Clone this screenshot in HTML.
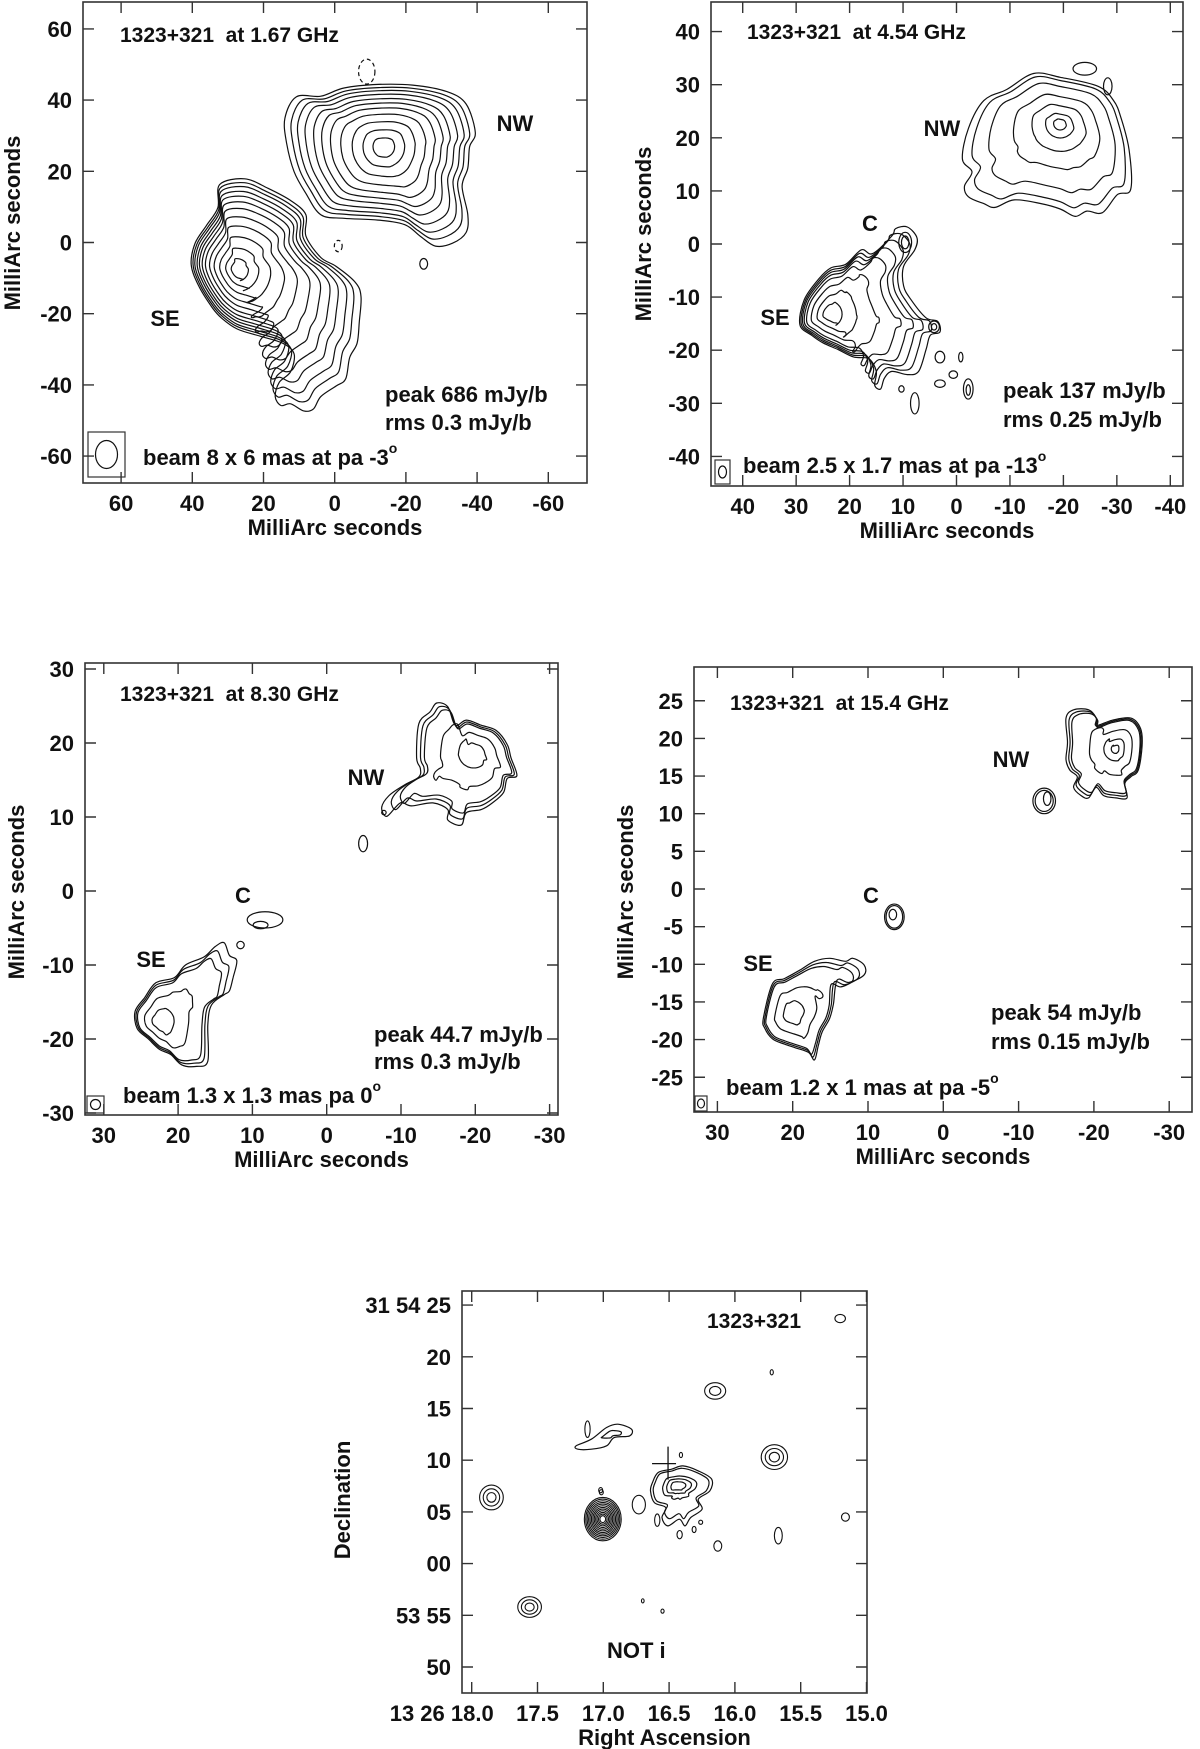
<!DOCTYPE html>
<html><head><meta charset="utf-8"><style>
html,body{margin:0;padding:0;background:#fff;}
svg{display:block;}
text{font-family:"Liberation Sans",Arial,sans-serif;font-weight:bold;fill:#111;white-space:pre;}
</style></head><body>
<svg id="fig" width="1200" height="1749" viewBox="0 0 1200 1749" xmlns="http://www.w3.org/2000/svg"></svg>
<script>
// ---------- Panel 1 (1.67 GHz) data, mas ----------
const p1NW = [[14.0,34.9],[10.8,40.9],[3.9,41.1],[-2.6,43.4],[-12.2,44.4],[-21.9,44.2],[-31.5,42.4],[-36.9,38.9],[-39.5,30.9],[-37.9,26.9],[-37.4,20.9],[-35.8,15.8],[-37.4,7.8],[-36.9,2.8],[-33.1,-0.2],[-28.3,-1.0],[-24.0,1.8],[-19.7,5.0],[-12.2,6.3],[-2.6,6.8],[3.9,7.8],[8.1,13.8],[11.4,19.9],[13.5,27.9]];
const p1NWPeak = [-13.8,26.9];
const p1NWLevels = [1,0.95,0.9,0.84,0.77,0.7,0.62,0.52,0.4,0.27,0.14];
const p1SE = [[32.3,16.3],[25.3,17.9],[18.9,15.3],[12.4,11.8],[8.1,7.8],[8.1,1.8],[3.9,-4.2],[-0.4,-6.7],[-5.8,-11.2],[-7.4,-15.2],[-6.9,-22.3],[-6.3,-28.3],[-4.2,-32.3],[-3.1,-38.3],[-0.4,-40.3],[3.9,-43.3],[6.0,-46.8],[8.7,-47.3],[12.4,-45.3],[15.1,-45.8],[16.7,-43.3],[15.6,-39.3],[12.4,-36.3],[11.4,-31.3],[14.6,-28.3],[21.0,-26.3],[27.4,-24.3],[31.7,-21.3],[34.4,-18.3],[38.2,-12.2],[40.3,-6.2],[39.2,-0.2],[36.0,4.8],[32.8,9.8]];
const p1SEPeak = [27.4,-7.7];
const p1SELevels = [1,0.96,0.92,0.87,0.82,0.76,0.69,0.6,0.5,0.38,0.25,0.13];
const p1Islands = [[-9,48,2.3,3.5,1],[-1,-1,1.1,1.6,1],[-25,-6,1.1,1.5,0]];
// ---------- Panel 2 (4.54 GHz) ----------
const p2NW = [[-1.1,16.0],[-2.2,21.7],[-5.1,27.0],[-9.4,29.1],[-14.4,32.1],[-19.4,31.4],[-26.5,29.7],[-29.4,27.0],[-30.8,23.7],[-32.3,17.7],[-32.6,10.3],[-30.1,9.3],[-27.3,5.9],[-24.4,6.2],[-22.2,5.2],[-19.4,6.6],[-15.8,7.6],[-10.8,8.3],[-7.2,6.9],[-5.1,7.6],[-2.2,8.9],[-1.5,10.9],[-2.9,13.6]];
const p2NWPeak = [-19.4,22.7];
const p2NWLevels = [1,0.93,0.8,0.58,0.38,0.2,0.09];
const p2SE = [[29.3,-15.2],[28.5,-10.5],[25.7,-6.5],[23.5,-4.5],[20.7,-3.8],[17.8,-1.1],[15.7,-1.8],[12.1,1.5],[11.4,2.9],[9.2,3.2],[7.4,1.2],[7.8,-1.1],[9.9,-4.2],[9.9,-7.9],[8.5,-10.5],[5.7,-13.9],[3.5,-14.6],[3.1,-16.6],[4.9,-17.2],[5.7,-19.9],[7.1,-24.0],[9.2,-24.6],[12.1,-24.0],[13.5,-25.3],[14.2,-27.3],[15.3,-26.6],[15.0,-24.0],[16.4,-21.6],[19.2,-21.3],[22.1,-19.9],[25.0,-18.6],[27.1,-17.2]];
const p2SEPeak = [23.9,-13.2];
const p2SELevels = [1,0.95,0.9,0.84,0.76,0.6,0.4,0.2];
const p2Islands = [[9.6,0.3,1.2,1.9,0],[9.6,0.3,0.7,1.2,0],[3.1,-21.3,0.9,1.1,0],[-0.8,-21.3,0.4,0.9,0],[3.1,-26.3,1.0,0.7,0],[0.6,-24.6,0.8,0.7,0],[-2.2,-27.3,0.9,1.9,0],[-2.2,-27.5,0.4,1.0,0],[7.8,-30.0,0.8,2.0,0],[10.3,-27.3,0.5,0.6,0],[-24.0,33.0,2.2,1.2,0],[-28.3,29.7,0.8,1.6,0],[4.2,-15.6,1.0,1.1,0],[4.2,-15.6,0.5,0.6,0]];
// ---------- Panel 3 (8.30 GHz) ----------
const p3NW = [[-7.4,11.3],[-8.4,12.9],[-10.4,14.3],[-12.4,15.4],[-12.6,16.6],[-12.1,18.0],[-12.4,22.6],[-13.9,24.2],[-14.8,25.4],[-16.3,24.9],[-17.3,22.4],[-18.8,23.1],[-20.8,22.4],[-22.8,21.7],[-24.3,19.8],[-24.8,18.0],[-25.6,15.6],[-24.3,15.2],[-23.8,13.3],[-22.3,11.9],[-20.8,11.0],[-18.8,10.6],[-18.1,8.9],[-16.3,9.6],[-16.3,11.0],[-14.3,11.9],[-11.4,11.5],[-9.9,11.9],[-8.1,10.1]];
const p3NWPeak = [-19.8,18.7];
const p3NWLevels = [1,0.94,0.88,0.62,0.3];
const p3SE = [[25.8,-16.3],[24.5,-14.4],[23.0,-12.4],[20.5,-11.7],[19.0,-10.0],[16.5,-8.9],[15.0,-7.5],[13.8,-7.0],[13.1,-8.7],[12.1,-9.4],[12.6,-11.7],[13.1,-13.5],[13.8,-14.0],[15.5,-15.4],[16.0,-18.1],[16.0,-23.0],[17.5,-23.7],[19.5,-23.5],[21.0,-22.1],[22.5,-21.4],[24.0,-20.0],[25.5,-18.6]];
const p3SEPeak = [22.5,-17.7];
const p3SELevels = [1,0.94,0.88,0.6,0.3];
const p3Islands = [[8.3,-3.9,2.4,1.1,0],[8.9,-4.6,1.0,0.5,0],[11.6,-7.3,0.5,0.5,0],[-4.9,6.4,0.6,1.1,0],[-7.7,10.6,0.3,0.3,0]];
// ---------- Panel 4 (15.4 GHz) ----------
const p4NW = [[-16.3,22.7],[-17.3,23.8],[-19.3,23.8],[-20.3,22.7],[-20.3,21.7],[-22.4,22.4],[-24.9,22.7],[-26.2,21.3],[-26.4,19.0],[-25.9,15.8],[-24.9,14.9],[-24.1,14.0],[-24.4,12.1],[-22.9,12.1],[-21.3,12.4],[-20.3,13.5],[-19.3,12.1],[-18.3,12.4],[-17.3,13.5],[-17.8,14.9],[-16.8,15.8],[-16.3,17.2],[-16.5,19.5]];
const p4NWPeak = [-22.9,18.6];
const p4NWLevels = [1,0.96,0.92,0.62,0.32,0.12];
const p4SE = [[23.9,-17.2],[22.7,-12.6],[21.1,-11.9],[19.1,-10.8],[17.1,-9.6],[15.1,-9.2],[13.0,-9.6],[12.0,-9.2],[10.5,-10.1],[10.5,-11.4],[12.5,-12.4],[14.1,-12.1],[14.6,-15.3],[15.1,-17.2],[16.1,-19.0],[16.6,-20.8],[17.1,-22.7],[17.9,-21.7],[19.6,-21.1],[21.1,-20.6],[22.7,-19.9],[23.7,-18.5]];
const p4SEPeak = [20.1,-16.5];
const p4SELevels = [1,0.95,0.9,0.6,0.3];
const p4Islands = [[-13.4,11.7,1.5,1.7,0],[-13.4,11.7,1.2,1.4,0],[-13.8,12.0,0.5,0.9,0],[6.5,-3.7,1.3,1.7,0],[6.5,-3.7,1.1,1.5,0],[6.7,-3.4,0.5,0.7,0]];
// ---------- Panel 5 (optical NOT i) ----------
const p5SrcRA  = [17.004,17.85,17.56,15.70,16.15,15.20,15.16,16.13,15.67,16.73,16.59,16.42,16.31,16.26,17.12,17.02,17.015,15.72,16.41,16.70,16.55];
const p5SrcDec = [4.3,6.4,-4.2,10.3,16.7,23.7,4.5,1.7,2.7,5.7,4.2,2.8,3.3,4.0,13.0,7.1,6.9,18.5,10.5,-3.6,-4.6];
const p5SrcRx  = [0.14,0.09,0.09,0.10,0.08,0.04,0.03,0.03,0.03,0.05,0.02,0.02,0.015,0.015,0.02,0.015,0.015,0.012,0.012,0.01,0.012];
const p5SrcRy  = [2.1,1.2,1.0,1.2,0.8,0.4,0.4,0.5,0.8,0.9,0.6,0.4,0.3,0.2,0.8,0.25,0.25,0.25,0.25,0.2,0.2];
const p5SrcNLev = [12,3,3,3,2,1,1,1,1,1,1,1,1,1,1,1,1,1,1,1,1];
const p5Target = [[16.626,7.84],[16.583,8.81],[16.481,9.13],[16.394,9.45],[16.278,8.97],[16.176,8.16],[16.191,7.03],[16.278,6.23],[16.249,5.26],[16.336,4.45],[16.379,3.65],[16.423,4.29],[16.510,3.65],[16.554,4.45],[16.525,5.42],[16.612,5.90],[16.641,7.03]];
const p5TargetPeak = [16.437,7.52];
const p5TargetLevels = [1,0.9,0.55,0.4,0.24];
const p5Ext = [[17.207,11.39],[17.091,12.03],[16.975,13.16],[16.888,13.48],[16.786,13.0],[16.800,12.35],[16.917,12.19],[16.975,11.39],[17.091,11.06],[17.193,11.06]];
const p5ExtPeak = [16.931,12.52];
const p5ExtLevels = [1,0.45];
const p5Cross = [16.508,9.67];

const NS='http://www.w3.org/2000/svg';
const svg=document.getElementById('fig');
function mk(tag,attrs,parent){const e=document.createElementNS(NS,tag);for(const k in attrs)e.setAttribute(k,attrs[k]);(parent||svg).appendChild(e);return e;}
function txt(s,x,y,anchor,size,parent,name){const t=mk('text',{x:x,y:y,'text-anchor':anchor||'start','font-size':size||22},parent);t.textContent=s;


return t;}
function smooth(pts){const n=pts.length;let d='M'+pts[0][0].toFixed(1)+','+pts[0][1].toFixed(1);
for(let i=0;i<n;i++){const p0=pts[(i-1+n)%n],p1=pts[i],p2=pts[(i+1)%n],p3=pts[(i+2)%n];
const c1=[p1[0]+(p2[0]-p0[0])/6,p1[1]+(p2[1]-p0[1])/6],c2=[p2[0]-(p3[0]-p1[0])/6,p2[1]-(p3[1]-p1[1])/6];
d+='C'+c1[0].toFixed(1)+','+c1[1].toFixed(1)+' '+c2[0].toFixed(1)+','+c2[1].toFixed(1)+' '+p2[0].toFixed(1)+','+p2[1].toFixed(1);}
return d+'Z';}
function panel(cfg){
 const g=mk('g',{});
 
 
 const [l,t,r,b]=cfg.frame;
 const fr=mk('rect',{x:l,y:t,width:r-l,height:b-t,fill:'none',stroke:'#333','stroke-width':1.6},g);
 
 
 cfg.xticks.forEach((v,i)=>{const x=cfg.sx(v);
  const tk=mk('path',{d:`M${x},${b}v-11M${x},${t}v11`,stroke:'#333','stroke-width':1.4},g);
  
  
  txt(cfg.xlabels[i],x+(cfg.xoff?cfg.xoff[i]:0),b+28,cfg.xanchor?cfg.xanchor[i]:'middle',22,g,'x-tick-label');});
 cfg.yticks.forEach((v,i)=>{const y=cfg.sy(v);
  const tk=mk('path',{d:`M${l},${y}h11M${r},${y}h-11`,stroke:'#333','stroke-width':1.4},g);
  
  
  txt(cfg.ylabels[i],l-11,y+8,'end',22,g,'y-tick-label');});
 txt(cfg.xtitle,(l+r)/2,b+52,'middle',22,g,'x-axis-title');
 const yt=txt(cfg.ytitle,0,0,'middle',22,g,'y-axis-title');
 yt.setAttribute('transform',`translate(${cfg.ytx},${cfg.yty}) rotate(-90)`);
 return g;}
// contour levels: outer follows outline, inner ones progressively rounder around peak
function blob(g,sx,sy,outline,peak,levels,name){
 const ds=outline.map(p=>Math.hypot(p[0]-peak[0],p[1]-peak[1]));
 const r0=ds.reduce((a,b)=>a+b,0)/ds.length*0.85;
 levels.forEach(f=>{const w=Math.min(1,(1-f)*1.5);
  const pts=outline.map((p,i)=>{const dx=p[0]-peak[0],dy=p[1]-peak[1],d=ds[i]||1;
   const nd=f*((1-w)*d+w*Math.min(d,r0));
   return [sx(peak[0]+dx/d*nd),sy(peak[1]+dy/d*nd)];});
  const c=mk('path',{d:smooth(pts),fill:'none',stroke:'#111','stroke-width':1.2},g);
  
  });}
function islands(g,sx,sy,arr){arr.forEach(a=>{const e=mk('ellipse',{cx:sx(a[0]),cy:sy(a[1]),rx:Math.abs(sx(a[2])-sx(0)),ry:Math.abs(sy(a[3])-sy(0)),fill:'none',stroke:'#111','stroke-width':1.2},g);
 if(a[4])e.setAttribute('stroke-dasharray','4,3');
 
 });}
function deg(t){const s=mk('tspan',{dy:-12,'font-size':14},t);s.textContent='o';}
function beamBox(g,x,y,w,h,rx,ry){const r=mk('rect',{x:x,y:y,width:w,height:h,fill:'none',stroke:'#333','stroke-width':1.2},g);
 
 
 const e=mk('ellipse',{cx:x+w/2,cy:y+h/2,rx:rx,ry:ry,fill:'none',stroke:'#111','stroke-width':1.2},g);
 
 }

// Panel 1
(function(){const sx=v=>334.7-3.56*v, sy=v=>242.5-3.56*v;
 const ticks=[60,40,20,0,-20,-40,-60];
 const g=panel({name:'panel-1-67ghz',frame:[83,2,587,483],sx,sy,xticks:ticks,yticks:ticks,xlabels:ticks.map(String),ylabels:ticks.map(String),xtitle:'MilliArc seconds',ytitle:'MilliArc seconds',ytx:20,yty:223});
 blob(g,sx,sy,p1NW,p1NWPeak,p1NWLevels,'nw-contour');
 blob(g,sx,sy,p1SE,p1SEPeak,p1SELevels,'se-contour');
 islands(g,sx,sy,p1Islands);
 txt('1323+321  at 1.67 GHz',120,42,'start',21,g,'panel-title');
 txt('NW',515,131,'middle',22,g,'nw-label');txt('SE',165,326,'middle',22,g,'se-label');
 txt('peak 686 mJy/b',385,402,'start',22,g,'peak-note');txt('rms 0.3 mJy/b',385,430,'start',22,g,'rms-note');
 deg(txt('beam 8 x 6 mas at pa -3',143,465,'start',22,g,'beam-note'));
 beamBox(g,88,432,37,45,11,14);})();
// Panel 2
(function(){const sx=v=>956.5-5.345*v, sy=v=>244-5.31*v;
 const ticks=[40,30,20,10,0,-10,-20,-30,-40];
 const g=panel({name:'panel-4-54ghz',frame:[711,2,1183,486],sx,sy,xticks:ticks,yticks:ticks,xlabels:ticks.map(String),ylabels:ticks.map(String),xtitle:'MilliArc seconds',ytitle:'MilliArc seconds',ytx:651,yty:234});
 blob(g,sx,sy,p2NW,p2NWPeak,p2NWLevels,'nw-contour');
 blob(g,sx,sy,p2SE,p2SEPeak,p2SELevels,'se-contour');
 islands(g,sx,sy,p2Islands);
 txt('1323+321  at 4.54 GHz',747,39,'start',21,g,'panel-title');
 txt('NW',942,136,'middle',22,g,'nw-label');txt('C',870,231,'middle',22,g,'c-label');txt('SE',775,325,'middle',22,g,'se-label');
 txt('peak 137 mJy/b',1003,398,'start',22,g,'peak-note');txt('rms 0.25 mJy/b',1003,427,'start',22,g,'rms-note');
 deg(txt('beam 2.5 x 1.7 mas at pa -13',743,473,'start',22,g,'beam-note'));
 beamBox(g,715,460,15,24,4,6);})();
// Panel 3
(function(){const sx=v=>326.7-7.43*v, sy=v=>891-7.4*v;
 const ticks=[30,20,10,0,-10,-20,-30];
 const g=panel({name:'panel-8-30ghz',frame:[85,663,558,1115],sx,sy,xticks:ticks,yticks:ticks,xlabels:ticks.map(String),ylabels:ticks.map(String),xtitle:'MilliArc seconds',ytitle:'MilliArc seconds',ytx:24,yty:892});
 blob(g,sx,sy,p3NW,p3NWPeak,p3NWLevels,'nw-contour');
 blob(g,sx,sy,p3SE,p3SEPeak,p3SELevels,'se-contour');
 islands(g,sx,sy,p3Islands);
 txt('1323+321  at 8.30 GHz',120,701,'start',21,g,'panel-title');
 txt('NW',366,785,'middle',22,g,'nw-label');txt('C',243,903,'middle',22,g,'c-label');txt('SE',151,967,'middle',22,g,'se-label');
 txt('peak 44.7 mJy/b',374,1042,'start',22,g,'peak-note');txt('rms 0.3 mJy/b',374,1069,'start',22,g,'rms-note');
 deg(txt('beam 1.3 x 1.3 mas pa 0',123,1103,'start',22,g,'beam-note'));
 beamBox(g,87,1096,17,17,5,5);})();
// Panel 4
(function(){const sx=v=>943.3-7.53*v, sy=v=>889-7.53*v;
 const xt=[30,20,10,0,-10,-20,-30], yt=[25,20,15,10,5,0,-5,-10,-15,-20,-25];
 const g=panel({name:'panel-15-4ghz',frame:[694,667,1192,1112],sx,sy,xticks:xt,yticks:yt,xlabels:xt.map(String),ylabels:yt.map(String),xtitle:'MilliArc seconds',ytitle:'MilliArc seconds',ytx:633,yty:892});
 blob(g,sx,sy,p4NW,p4NWPeak,p4NWLevels,'nw-contour');
 blob(g,sx,sy,p4SE,p4SEPeak,p4SELevels,'se-contour');
 islands(g,sx,sy,p4Islands);
 txt('1323+321  at 15.4 GHz',730,710,'start',21,g,'panel-title');
 txt('NW',1011,767,'middle',22,g,'nw-label');txt('C',871,903,'middle',22,g,'c-label');txt('SE',758,971,'middle',22,g,'se-label');
 txt('peak 54 mJy/b',991,1020,'start',22,g,'peak-note');txt('rms 0.15 mJy/b',991,1049,'start',22,g,'rms-note');
 deg(txt('beam 1.2 x 1 mas at pa -5',726,1095,'start',22,g,'beam-note'));
 beamBox(g,695,1096,12,15,3.5,4.5);})();
// Panel 5
(function(){const sx=v=>471.7+(18-v)*131.6, sy=v=>1563.6-10.34*v;
 const xt=[18.0,17.5,17.0,16.5,16.0,15.5,15.0], yt=[25,20,15,10,5,0,-5,-10];
 const g=panel({name:'panel-optical',frame:[462,1291,867,1693],sx,sy,xticks:xt,yticks:yt,
  xlabels:['13 26 18.0','17.5','17.0','16.5','16.0','15.5','15.0'],xanchor:['end','middle','middle','middle','middle','middle','middle'],xoff:[22,0,0,0,0,0,0],
  ylabels:['31 54 25','20','15','10','05','00','53 55','50'],xtitle:'Right Ascension',ytitle:'Declination',ytx:350,yty:1500});
 p5SrcRA.forEach((ra,i)=>{for(let k=0;k<p5SrcNLev[i];k++){const f=1-k/p5SrcNLev[i]*0.92;
  const e=mk('ellipse',{cx:sx(ra),cy:sy(p5SrcDec[i]),rx:p5SrcRx[i]*131.6*f,ry:p5SrcRy[i]*10.34*f,fill:'none',stroke:'#111','stroke-width':1.1},g);
  
  }});
 blob(g,sx,sy,p5Target,p5TargetPeak,p5TargetLevels,'target-contour');
 blob(g,sx,sy,p5Ext,p5ExtPeak,p5ExtLevels,'extended-source-contour');
 const cx=sx(p5Cross[0]),cy=sy(p5Cross[1]);
 const c=mk('path',{d:`M${cx},${cy-17}v33M${cx-16},${cy}h24`,stroke:'#111','stroke-width':1.3},g);
 
 
 txt('1323+321',707,1328,'start',21,g,'panel-title');
 txt('NOT i',607,1658,'start',22,g,'filter-label');})();
</script>
</body></html>
